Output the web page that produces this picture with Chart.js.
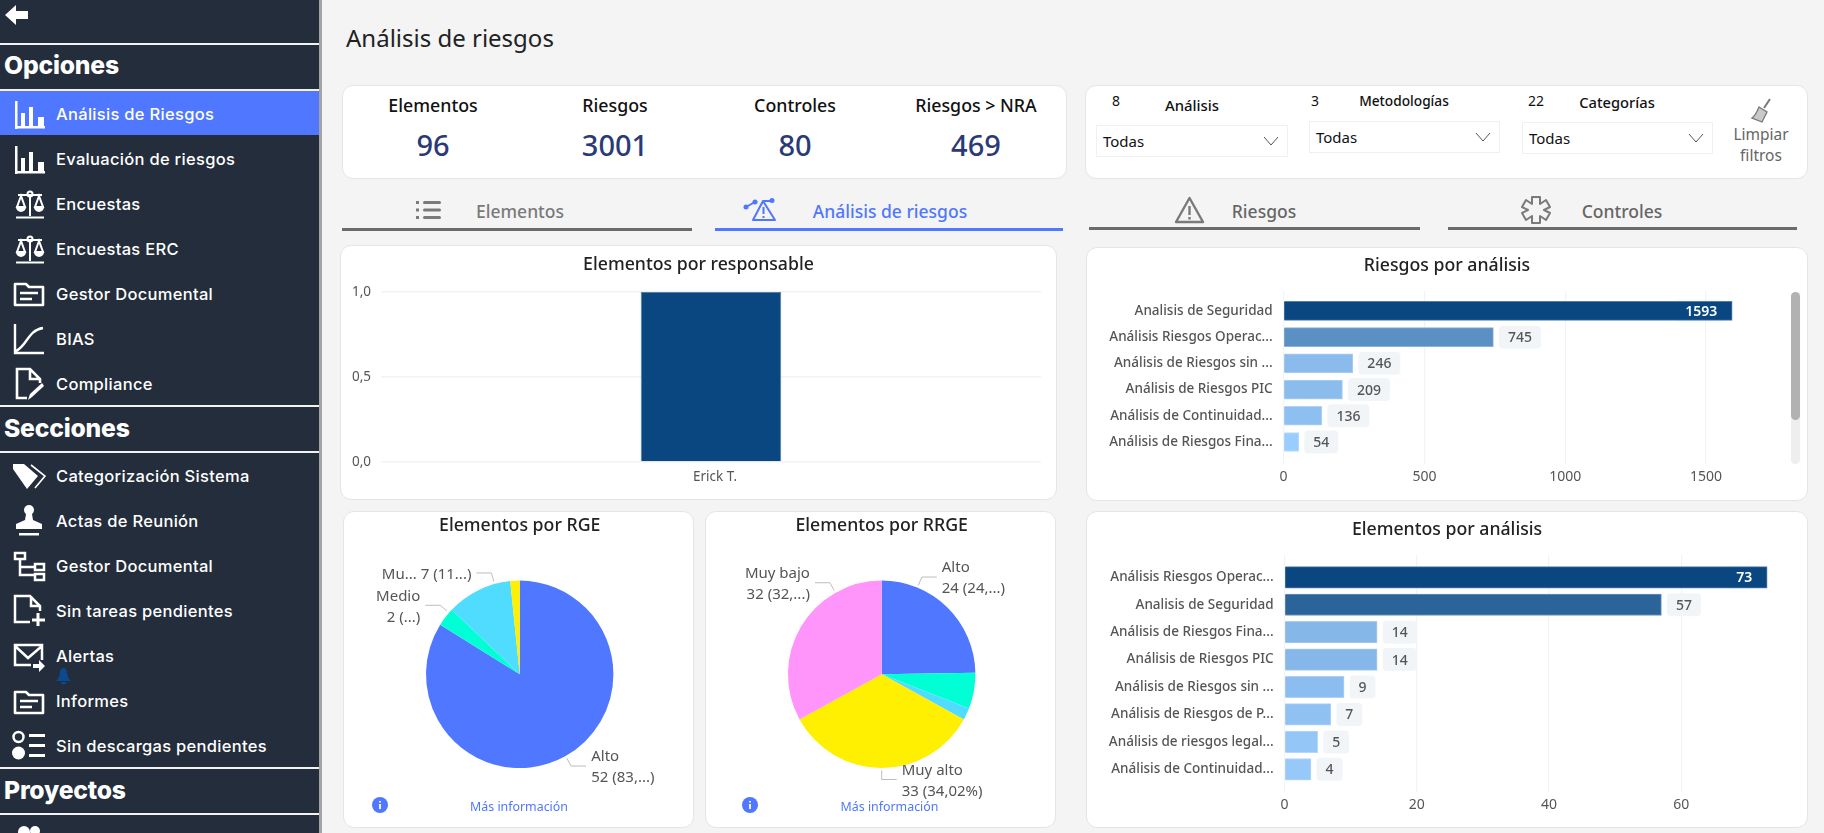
<!DOCTYPE html>
<html lang="es"><head><meta charset="utf-8">
<script src="https://cdn.jsdelivr.net/npm/chart.js@4/dist/chart.umd.min.js"></script>
<style>
html,body{margin:0;padding:0;width:1824px;height:833px;overflow:hidden;background:#f4f4f4;font-family:"Noto Sans",sans-serif;color:#222}
.abs,.card,.t,.hr,.ic{position:absolute}
.t{white-space:nowrap;line-height:1;transform:translateY(-50%)}
.c{transform:translate(-50%,-50%)}
#side{position:absolute;left:0;top:0;width:319px;height:833px;background:#232d3b;overflow:hidden;font-family:Inter,sans-serif;color:#fff}
#strip{position:absolute;left:319px;top:0;width:3px;height:833px;background:#a3a3a3}
.hr{left:0;width:319px;height:1.5px;background:#f2f2f2}
.head{font-weight:800;font-size:24.7px;left:4px;letter-spacing:-.2px}
.item{font-weight:500;font-size:16.5px;left:56px;letter-spacing:.3px}
#act{position:absolute;left:0;top:90px;width:319px;height:45px;background:#4f77ff}
.card{background:#fff;border:1px solid #e1e7e7;border-radius:11px;box-sizing:border-box}
canvas{position:absolute}
.sel{position:absolute;background:#fff;border:1px solid #eef0f1;box-sizing:border-box;font-size:15px;color:#111;padding-left:6px;display:flex;align-items:center}
.sel svg{position:absolute;right:8px;top:50%;margin-top:-5px}
.tab{position:absolute;height:2.5px;background:#6b6b6b}
.lab{font-size:17.8px;font-weight:500;color:#111}
.val{font-size:29px;font-weight:500;color:#2a3a78}
.tabt{font-size:17.5px;font-weight:500;color:#666}
.more{font-size:12.4px;color:#4f77ff}
svg.ic{overflow:visible}
</style></head><body>
<div id="side">
  <div id="act"></div>
  <svg class="ic" style="left:5px;top:4px" width="24" height="22" viewBox="0 0 24 22"><path d="M0 11 11 1v6h12v8H11v6z" fill="#fff"/></svg>
  <div class="hr" style="top:43px"></div><div class="t head" style="top:65px">Opciones</div><div class="hr" style="top:89px"></div>
  <div class="t item" style="top:114px">Análisis de Riesgos</div>
  <div class="t item" style="top:159px">Evaluación de riesgos</div>
  <div class="t item" style="top:204px">Encuestas</div>
  <div class="t item" style="top:249px">Encuestas ERC</div>
  <div class="t item" style="top:294px">Gestor Documental</div>
  <div class="t item" style="top:339px">BIAS</div>
  <div class="t item" style="top:384px">Compliance</div>
  <div class="hr" style="top:405px"></div><div class="t head" style="top:428px">Secciones</div><div class="hr" style="top:451px"></div>
  <div class="t item" style="top:476px">Categorización Sistema</div>
  <div class="t item" style="top:521px">Actas de Reunión</div>
  <div class="t item" style="top:566px">Gestor Documental</div>
  <div class="t item" style="top:611px">Sin tareas pendientes</div>
  <div class="t item" style="top:656px">Alertas</div>
  <div class="t item" style="top:701px">Informes</div>
  <div class="t item" style="top:746px">Sin descargas pendientes</div>
  <div class="hr" style="top:767px"></div><div class="t head" style="top:790px">Proyectos</div><div class="hr" style="top:813px"></div>
  <div class="t item" style="top:840px">Equipos de Trabajo</div>
  <!-- icons -->
  <svg class="ic" style="left:14px;top:100px" width="32" height="30" viewBox="0 0 32 30"><g id="bars" fill="#fff"><rect x="1" y="1" width="2.5" height="28"/><rect x="1" y="26" width="30" height="2.5"/><rect x="7" y="13" width="4" height="14"/><rect x="15" y="7" width="4" height="20"/><rect x="24" y="17" width="6" height="10"/></g></svg>
  <svg class="ic" style="left:14px;top:145px" width="32" height="30" viewBox="0 0 32 30"><use href="#bars"/></svg>
  <svg class="ic" style="left:15px;top:190px" width="30" height="30" viewBox="0 0 30 30"><g id="scale" fill="none" stroke="#fff" stroke-width="2"><circle cx="15" cy="4" r="2.5"/><path d="M15 7v19M1 27.5h28M3 5h24"/><path d="M6 6 2 17h8zM24 6l-4 11h8z"/><path d="M2 17a4 4 0 0 0 8 0zM20 17a4 4 0 0 0 8 0z" fill="#fff"/></g></svg>
  <svg class="ic" style="left:15px;top:235px" width="30" height="30" viewBox="0 0 30 30"><use href="#scale"/></svg>
  <svg class="ic" style="left:13px;top:281px" width="32" height="26" viewBox="0 0 32 26"><g id="folder" fill="none" stroke="#fff" stroke-width="2.6"><path d="M2 3h11l3 3h14v18H2z" stroke-linejoin="round"/><path d="M7 12h18M7 18h12"/></g></svg>
  <svg class="ic" style="left:13px;top:324px" width="32" height="30" viewBox="0 0 32 30"><path d="M2 0v29h29M3 27C14 22 15 6 30 4" fill="none" stroke="#fff" stroke-width="2.4"/></svg>
  <svg class="ic" style="left:15px;top:368px" width="30" height="34" viewBox="0 0 30 34"><path d="M12 30H2V1h13l10 10v4M15 1v10h10" fill="none" stroke="#fff" stroke-width="2.6"/><path d="M13 32l2-6 12-11 2 3-12 11z" fill="#fff"/></svg>
  <svg class="ic" style="left:12px;top:463px" width="34" height="26" viewBox="0 0 34 26"><path d="M1 5V0h11l14 12-11 13z" fill="#fff" transform="translate(0 1)"/><path d="M19 2l14 11-10 12" fill="none" stroke="#fff" stroke-width="1.6"/></svg>
  <svg class="ic" style="left:15px;top:505px" width="28" height="32" viewBox="0 0 28 32"><circle cx="14" cy="5" r="5" fill="#fff"/><path d="M11 9h6l1 6 9 4v5H1v-5l9-4z" fill="#fff"/><rect x="4" y="28" width="20" height="2.5" fill="#fff"/></svg>
  <svg class="ic" style="left:13px;top:551px" width="32" height="32" viewBox="0 0 32 32"><g fill="none" stroke="#fff" stroke-width="2.5"><rect x="2" y="2" width="10" height="6"/><rect x="22" y="13" width="9" height="6"/><rect x="22" y="23" width="9" height="6"/><path d="M7 8v16h15M7 16h15"/></g></svg>
  <svg class="ic" style="left:13px;top:595px" width="32" height="32" viewBox="0 0 32 32"><path d="M17 27H2V1h15l10 10v5M18 1v10h9" fill="none" stroke="#fff" stroke-width="2.5"/><path d="M25 18v13M19 25h13" stroke="#fff" stroke-width="3"/></svg>
  <svg class="ic" style="left:13px;top:643px" width="32" height="30" viewBox="0 0 32 30"><path d="M18 22H2V2h27v15M2 3l13 12L29 3" fill="none" stroke="#fff" stroke-width="2.5"/><path d="M20 21h6v-4l6 6-6 6v-4h-6z" fill="#fff"/></svg>
  <svg class="ic" style="left:56px;top:668px" width="15" height="16" viewBox="0 0 15 16"><path d="M7.5 0C10 0 11 3 11.5 7c.3 3 2 5 3.5 6H0c1.500-1 3.200-3 3.500-6C4 3 5 0 7.500 0zM5 14h5a2.500 2.500 0 0 1-5 0z" fill="#0b4a8f"/></svg>
  <svg class="ic" style="left:13px;top:689px" width="32" height="26" viewBox="0 0 32 26"><use href="#folder"/></svg>
  <svg class="ic" style="left:12px;top:730px" width="33" height="31" viewBox="0 0 33 31"><g fill="#fff"><circle cx="6.500" cy="7" r="5" fill="none" stroke="#fff" stroke-width="2.500"/><circle cx="6.500" cy="23" r="6.500"/><rect x="17" y="4" width="16" height="3"/><rect x="17" y="14" width="16" height="3"/><rect x="17" y="24" width="16" height="3"/></g></svg>
  <svg class="ic" style="left:17px;top:825px" width="24" height="20" viewBox="0 0 24 20"><circle cx="7" cy="7" r="6" fill="#fff"/><circle cx="18" cy="6" r="5" fill="#fff"/></svg>
</div>
<div id="strip"></div>

<div class="t" style="left:346px;top:38px;font-size:24px;color:#222">Análisis de riesgos</div>

<div class="card" style="left:342px;top:85px;width:725px;height:94px"></div>
<div class="t c lab" style="left:433px;top:106px">Elementos</div>
<div class="t c lab" style="left:615px;top:106px">Riesgos</div>
<div class="t c lab" style="left:795px;top:106px">Controles</div>
<div class="t c lab" style="left:976px;top:106px">Riesgos &gt; NRA</div>
<div class="t c val" style="left:433px;top:144px">96</div>
<div class="t c val" style="left:615px;top:144px">3001</div>
<div class="t c val" style="left:795px;top:144px">80</div>
<div class="t c val" style="left:976px;top:144px">469</div>

<div class="card" style="left:1085px;top:85px;width:723px;height:94px"></div>
<div class="t c" style="left:1116px;top:101px;font-size:14px;color:#111">8</div>
<div class="t c" style="left:1192px;top:105px;font-size:14.9px;font-weight:500;color:#111">Análisis</div>
<div class="t c" style="left:1315px;top:101px;font-size:14px;color:#111">3</div>
<div class="t c" style="left:1404px;top:101px;font-size:13.7px;font-weight:500;color:#111">Metodologías</div>
<div class="t c" style="left:1536px;top:101px;font-size:14px;color:#111">22</div>
<div class="t c" style="left:1617px;top:102px;font-size:14.7px;font-weight:500;color:#111">Categorías</div>
<div class="sel" style="left:1096px;top:125px;width:192px;height:32px">Todas<svg width="16" height="10" viewBox="0 0 16 10"><path d="M1 1l7 8 7-8" fill="none" stroke="#555"/></svg></div>
<div class="sel" style="left:1309px;top:121px;width:191px;height:32px">Todas<svg width="16" height="10" viewBox="0 0 16 10"><path d="M1 1l7 8 7-8" fill="none" stroke="#555"/></svg></div>
<div class="sel" style="left:1522px;top:122px;width:191px;height:32px">Todas<svg width="16" height="10" viewBox="0 0 16 10"><path d="M1 1l7 8 7-8" fill="none" stroke="#555"/></svg></div>
<svg class="ic" style="left:1750px;top:98px" width="22" height="26" viewBox="0 0 22 26"><path d="M20 1 14 10" stroke="#777" stroke-width="2" fill="none"/><path d="M9 9l8 5-5 10-10-4c3-2 5-6 7-11z" fill="#c9c9c9" stroke="#777" stroke-width="1.300"/></svg>
<div class="t c" style="left:1761px;top:135px;font-size:15.5px;color:#666">Limpiar</div>
<div class="t c" style="left:1761px;top:156px;font-size:15.5px;color:#666">filtros</div>

<svg class="ic" style="left:416px;top:200px" width="25" height="20" viewBox="0 0 25 20"><g fill="#7a7a7a"><rect x="0" y="1" width="3" height="3"/><rect x="0" y="8.500" width="3" height="3"/><rect x="0" y="16" width="3" height="3"/><rect x="7" y="1" width="18" height="3" rx="1.500"/><rect x="7" y="8.500" width="18" height="3" rx="1.500"/><rect x="7" y="16" width="18" height="3" rx="1.500"/></g></svg>
<div class="t c tabt" style="left:520px;top:212px;color:#7a7a7a">Elementos</div>
<div class="tab" style="left:342px;top:228px;width:350px"></div>
<svg class="ic" style="left:743px;top:198px" width="34" height="24" viewBox="0 0 34 24"><path d="M10 22 20 3l12 19zM20.500 9v7M20.500 18v2M3 9l9-5M20 3h9" fill="none" stroke="#4f77ff" stroke-width="2" stroke-linejoin="round"/><circle cx="3" cy="9" r="2.500" fill="#4f77ff"/><circle cx="12" cy="4" r="2.500" fill="#4f77ff"/><circle cx="29" cy="2.500" r="2.500" fill="#4f77ff"/></svg>
<div class="t c tabt" style="left:890px;top:212px;color:#4f77ff">Análisis de riesgos</div>
<div class="tab" style="left:715px;top:228px;width:348px;background:#4f77ff"></div>
<svg class="ic" style="left:1174px;top:196px" width="31" height="28" viewBox="0 0 31 28"><path d="M15.500 2 2 26h27zM15.500 10v9M15.500 21v2.500" fill="none" stroke="#7a7a7a" stroke-width="2.400" stroke-linejoin="round"/></svg>
<div class="t c tabt" style="left:1264px;top:212px">Riesgos</div>
<div class="tab" style="left:1089px;top:227px;width:331px"></div>
<svg class="ic" style="left:1521px;top:195px" width="30" height="30" viewBox="0 0 30 30"><path d="M11 2h8v7l6-4 4 7-6 3 6 3-4 7-6-4v7h-8v-7l-6 4-4-7 6-3-6-3 4-7 6 4z" fill="none" stroke="#7a7a7a" stroke-width="2" stroke-linejoin="round"/></svg>
<div class="t c tabt" style="left:1622px;top:212px">Controles</div>
<div class="tab" style="left:1448px;top:227px;width:349px"></div>

<div class="card" style="left:340px;top:245px;width:717px;height:255px"></div>
<div class="card" style="left:1086px;top:247px;width:722px;height:254px"></div>
<div class="card" style="left:343px;top:511px;width:351px;height:317px"></div>
<div class="card" style="left:705px;top:511px;width:351px;height:317px"></div>
<div class="card" style="left:1086px;top:511px;width:722px;height:317px"></div>

<canvas id="cResp" style="left:340px;top:245px"></canvas>
<canvas id="cRiesgos" style="left:1086px;top:247px"></canvas>
<canvas id="cRge" style="left:343px;top:512px"></canvas>
<canvas id="cRrge" style="left:705px;top:512px"></canvas>
<canvas id="cElem" style="left:1086px;top:511px"></canvas>

<div class="abs" style="left:1791px;top:292px;width:9px;height:172px;background:#eeeeee;border-radius:5px"></div>
<div class="abs" style="left:1791px;top:292px;width:9px;height:128px;background:#b2b2b2;border-radius:5px"></div>

<svg class="ic" style="left:372px;top:797px" width="16" height="16" viewBox="0 0 16 16"><circle cx="8" cy="8" r="8" fill="#4f77ff"/><path d="M8 4v1.500M8 7v5" stroke="#fff" stroke-width="1.800"/></svg>
<svg class="ic" style="left:742px;top:797px" width="16" height="16" viewBox="0 0 16 16"><circle cx="8" cy="8" r="8" fill="#4f77ff"/><path d="M8 4v1.500M8 7v5" stroke="#fff" stroke-width="1.800"/></svg>
<div class="t c more" style="left:519px;top:807px">Más información</div>
<div class="t c more" style="left:889.500px;top:807px">Más información</div>

<script>
/* ---------- data ---------- */
const respCategories = ['Erick T.'];
const respValues = [1];
const respTicks = [0, 0.5, 1];

const riesgosCategories = ['Analisis de Seguridad','Análisis Riesgos Operac...','Análisis de Riesgos sin ...','Análisis de Riesgos PIC','Análisis de Continuidad...','Análisis de Riesgos Fina...'];
const riesgosValues = [1593, 745, 246, 209, 136, 54];
const riesgosColors = ['#0a4780','#5b90c4','#8abbec','#8abcec','#8dc0f1','#99ccff'];
const riesgosTicks = [0, 500, 1000, 1500];

const elemCategories = ['Análisis Riesgos Operac...','Analisis de Seguridad','Análisis de Riesgos Fina...','Análisis de Riesgos PIC','Análisis de Riesgos sin ...','Análisis de Riesgos de P...','Análisis de riesgos legal...','Análisis de Continuidad...'];
const elemValues = [73, 57, 14, 14, 9, 7, 5, 4];
const elemColors = ['#0a4780','#2a6499','#85b7e8','#85b7e8','#8bbdf0','#8fc1f3','#94c6f7','#96c8f8'];
const elemTicks = [0, 20, 40, 60];

const rgeCategories = ['Alto','Medio','Muy bajo','Muy alto'];
const rgeValues = [52, 2, 7, 1];
const rgeLabels = [['Alto','52 (83,...)'], ['Medio','2 (...)'], ['Mu... 7 (11...)'], null];

const rrgeCategories = ['Alto','Medio','Bajo','Muy alto','Muy bajo'];
const rrgeValues = [24, 6, 2, 33, 32];
const rrgeLabels = [['Alto','24 (24,...)'], null, null, ['Muy alto','33 (34,02%)'], ['Muy bajo','32 (32,...)']];

/* ---------- styling ---------- */
const rgeColors = ['#4f77ff','#00ffd5','#4fdcff','#ffef00'];
const rrgeColors = ['#4f77ff','#00ffd5','#4fdcff','#ffef00','#ff94fb'];
const rgeLeaderDeg = [150.7, 311, 344.4, null];
const rrgeLeaderDeg = [22.4, null, null, 180, 330.5];
const FONT = '"Noto Sans", sans-serif';
const GRID = '#f1f3f5', LABEL = '#555';

Chart.defaults.animation = false;
Chart.defaults.font.family = FONT;
Chart.defaults.devicePixelRatio = 1;
Chart.defaults.responsive = false;
Chart.defaults.plugins.legend.display = false;
Chart.defaults.plugins.tooltip.enabled = false;

function size(id, w, h){ const c=document.getElementById(id); c.width=w; c.height=h; c.style.width=w+'px'; c.style.height=h+'px'; return c; }
function titleCfg(text, center, top){
  const fs=17.7, lh=fs*1.2, pt=center-lh/2;
  return {display:true,text,color:'#222',font:{size:fs,weight:'500'},padding:{top:pt,bottom:top-pt-lh}};
}
const fixedTicks = list => s => { s.ticks = list.map(value=>({value})); };
function edge(hex){
  const n=parseInt(hex.slice(1),16), m=c=>Math.round(c+(255-c)*.3);
  return `rgb(${m(n>>16)},${m((n>>8)&255)},${m(n&255)})`;
}
/* empty right-hand axis: reserves space beside the plot, keeps the title centred on the card */
const spacer = w => ({type:'linear',axis:'y',position:'right',display:true,min:0,max:1,border:{display:false},grid:{display:false,drawTicks:false},ticks:{display:false},afterFit(s){s.width=w;}});

/* value pills on horizontal bars */
const pills = {
  id:'pills',
  beforeDatasetsDraw(chart){ each(chart,(ctx,b,v,x,y,w,h,inside)=>{
    ctx.fillStyle = inside ? 'rgba(240,244,248,.55)' : '#f2f5f8';
    ctx.beginPath(); ctx.roundRect(x-w/2,y-h/2,w,h,4); ctx.fill();
  });},
  afterDatasetsDraw(chart){ each(chart,(ctx,b,v,x,y,w,h,inside)=>{
    ctx.fillStyle = inside ? '#fff' : '#555';
    ctx.font = (inside?'600 ':'500 ')+'14px '+FONT;
    ctx.textAlign='center'; ctx.textBaseline='middle';
    ctx.fillText(v,x,y+1);
  });}
};
function each(chart,fn){
  const ctx=chart.ctx, meta=chart.getDatasetMeta(0), data=chart.data.datasets[0].data;
  ctx.save();
  ctx.font='500 14px '+FONT;
  meta.data.forEach((b,i)=>{
    const v=data[i].x, tw=ctx.measureText(String(v)).width, w=tw+18, h=23;
    const inside = i===0;
    const x = inside ? b.x-6-w/2 : b.x+5.5+w/2;
    fn(ctx,b,v,x,b.y,w,h,inside);
  });
  ctx.restore();
}

/* leader lines and labels on pies */
const pieLabels = {
  id:'pieLabels',
  afterDatasetsDraw(chart,args,opts){
    const ctx=chart.ctx, arcs=chart.getDatasetMeta(0).data;
    ctx.save();
    ctx.font='15px '+FONT; ctx.textBaseline='middle';
    arcs.forEach((a,i)=>{
      const lab=opts.labels[i]; if(!lab) return;
      const over=opts.deg && opts.deg[i];
      const ang = over!=null ? over*Math.PI/180-Math.PI/2 : (a.startAngle+a.endAngle)/2;
      const r=a.outerRadius, cx=a.x, cy=a.y;
      const sx=cx+Math.cos(ang)*(r+2.500), sy=cy+Math.sin(ang)*(r+2.500);
      const ex=cx+Math.cos(ang)*(r+11.500), ey=cy+Math.sin(ang)*(r+11.500);
      const right=Math.cos(ang)>=-0.001;
      const hx=ex+(right?15:-15);
      ctx.strokeStyle='#bdbdbd'; ctx.lineWidth=1;
      ctx.beginPath(); ctx.moveTo(sx,sy); ctx.lineTo(ex,ey); ctx.lineTo(hx,ey); ctx.stroke();
      ctx.fillStyle=LABEL; ctx.textAlign=right?'left':'right';
      const tx=hx+(right?5:-5);
      if(lab.length===1){ ctx.fillText(lab[0],tx,ey+1.500); }
      else { ctx.fillText(lab[0],tx,ey-9); ctx.fillText(lab[1],tx,ey+12); }
    });
    ctx.restore();
  }
};

function hbar(id, W, H, title, titleC, cats, vals, colors, ticks, max, plot, edges){
  size(id,W,H);
  new Chart(document.getElementById(id),{
    type:'bar',
    data:{datasets:[{data:vals.map((x,i)=>({x,y:i})),backgroundColor:colors,borderColor:colors.map(edge),borderWidth:1,barThickness:plot.bar}]},
    options:{
      indexAxis:'y',
      layout:{autoPadding:false,padding:0},
      plugins:{title:titleCfg(title,titleC,plot.t)},
      scales:{
        x:{type:'linear',min:0,max,border:{display:false},grid:{color:GRID,lineWidth:1.2,drawTicks:false},
           afterBuildTicks:fixedTicks(ticks),afterFit(s){s.height=H-plot.b;},
           ticks:{color:LABEL,font:{size:14},padding:5,maxRotation:0,callback:v=>String(v)}},
        y:{type:'linear',reverse:true,offset:false,bounds:'data',min:edges[0],max:edges[1],border:{display:false},grid:{display:false,drawTicks:false},
           afterBuildTicks:fixedTicks(cats.map((_,i)=>i)),afterFit(s){s.width=plot.l;},
           ticks:{color:LABEL,font:{size:13.500,weight:'500'},padding:11,autoSkip:false,callback:v=>cats[v]}},
        pad:spacer(W-plot.r)
      }
    },
    plugins:[pills]
  });
}

/* responsable column chart */
size('cResp',717,254);
new Chart(document.getElementById('cResp'),{
  type:'bar',
  data:{labels:respCategories,datasets:[{data:respValues,backgroundColor:'#0a4780',borderColor:edge('#0a4780'),borderWidth:1,barPercentage:1,categoryPercentage:.213}]},
  options:{
    layout:{autoPadding:false,padding:0},
    plugins:{title:titleCfg('Elementos por responsable',20,47)},
    scales:{
      x:{border:{display:false},grid:{display:false,drawTicks:false},afterFit(s){s.height=254-217;},
         ticks:{color:LABEL,font:{size:13.500},padding:7,labelOffset:4}},
      y:{min:0,max:1,border:{display:false},grid:{color:GRID,lineWidth:1.5,drawTicks:false},
         afterBuildTicks:fixedTicks(respTicks),afterFit(s){s.width=41;},
         ticks:{color:LABEL,font:{size:13.500},padding:10,callback:v=>v.toFixed(1).replace('.',',')}},
      pad:spacer(16)
    }
  }
});

hbar('cRiesgos',722,253,'Riesgos por análisis',19,riesgosCategories,riesgosValues,riesgosColors,riesgosTicks,1770,
  {l:197.600,r:696,t:44,b:217,bar:19},[-0.76,5.84]);
hbar('cElem',722,316,'Elementos por análisis',19,elemCategories,elemValues,elemColors,elemTicks,77,
  {l:198.600,r:707.600,t:44,b:280.700,bar:21.500},[-0.813,7.816]);

function pie(id,W,H,title,vals,cats,colors,labels,deg,left,right,top,bottom){
  size(id,W,H);
  new Chart(document.getElementById(id),{
    type:'pie',
    data:{labels:cats,datasets:[{data:vals,backgroundColor:colors,borderWidth:0}]},
    options:{
      layout:{autoPadding:false,padding:{left,right,top:0,bottom}},
      plugins:{title:titleCfg(title,14,top),pieLabels:{labels,deg}}
    },
    plugins:[pieLabels]
  });
}
pie('cRge',351,315,'Elementos por RGE',rgeValues,rgeCategories,rgeColors,rgeLabels,rgeLeaderDeg,83,80.600,68.600,59);
pie('cRrge',351,315,'Elementos por RRGE',rrgeValues,rrgeCategories,rrgeColors,rrgeLabels,rrgeLeaderDeg,83,80.600,68.600,59);
</script>
</body></html>
